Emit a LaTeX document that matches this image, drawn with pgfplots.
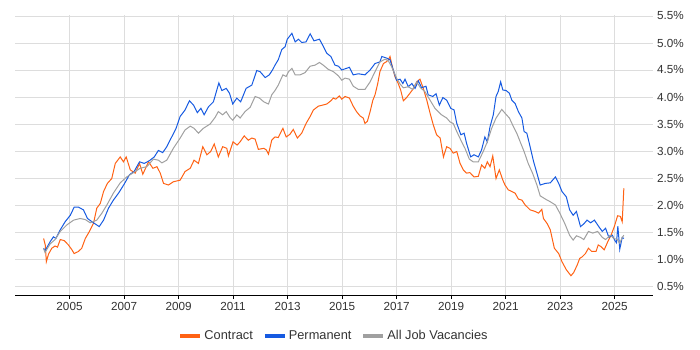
\documentclass[border=0pt]{standalone}
\usepackage{pgfplots}
\pgfplotsset{compat=1.18}
\usepackage{fontspec}
\setmainfont{Liberation Sans}
\definecolor{cContract}{RGB}{255,98,20}
\definecolor{cPerm}{RGB}{22,90,225}
\definecolor{cAll}{RGB}{160,160,160}
\definecolor{cGrid}{RGB}{221,221,221}
\definecolor{cText}{RGB}{51,51,51}
\begin{document}
\begin{tikzpicture}[x=1pt,y=1pt]
\path[use as bounding box] (0,0) rectangle (700,350);
\begin{axis}[
  at={(15pt,55pt)}, anchor=south west,
  scale only axis, width=638pt, height=280pt,
  xmin=2003.0, xmax=2026.41, ymin=0.3333, ymax=5.5185,
  axis x line*=bottom, axis y line*=right,
  x axis line style={black, line width=0.8pt, -},
  y axis line style={draw=none},
  yticklabel pos=right,
  grid=major, major grid style={cGrid, line width=0.6pt},
  xtick={2005,2007,...,2025},
  xticklabels={2005,2007,2009,2011,2013,2015,2017,2019,2021,2023,2025},
  ytick={0.5,1.0,...,5.5},
  yticklabels={0.5\%,1.0\%,1.5\%,2.0\%,2.5\%,3.0\%,3.5\%,4.0\%,4.5\%,5.0\%,5.5\%},
  tick align=outside, major tick length=4pt,
  xtick style={black, line width=0.6pt},
  ytick style={draw=none},
  tick label style={font=\fontsize{11.7}{13}\selectfont, text=cText},
  yticklabel style={anchor=west, inner sep=0pt, xshift=0pt},
  legend style={at={(0.5,-0.146)}, anchor=center, draw=none, fill=none,
    legend columns=3, font=\fontsize{12.8}{14}\selectfont, text=cText,
    /tikz/every even column/.append style={column sep=8pt}},
  legend image code/.code={\draw[#1, line width=4pt] (0pt,0pt) -- (20pt,0pt);},
  clip=false,
]
\addplot[cContract, line width=1pt] table {
2004.05 1.38
2004.11 1.26
2004.15 0.95
2004.23 1.09
2004.35 1.20
2004.47 1.24
2004.56 1.22
2004.66 1.36
2004.81 1.34
2004.96 1.26
2005.09 1.17
2005.17 1.10
2005.33 1.14
2005.45 1.20
2005.58 1.38
2005.73 1.51
2005.88 1.66
2006.00 1.94
2006.13 2.03
2006.25 2.25
2006.39 2.40
2006.55 2.49
2006.68 2.77
2006.86 2.89
2006.98 2.80
2007.08 2.89
2007.23 2.65
2007.41 2.59
2007.57 2.77
2007.69 2.57
2007.90 2.80
2008.06 2.68
2008.21 2.71
2008.33 2.59
2008.45 2.40
2008.63 2.37
2008.81 2.43
2009.06 2.46
2009.24 2.62
2009.43 2.68
2009.57 2.83
2009.73 2.77
2009.89 3.08
2010.04 2.93
2010.18 2.99
2010.31 3.13
2010.46 2.89
2010.62 3.08
2010.77 3.05
2010.83 2.91
2011.00 3.17
2011.15 3.11
2011.26 3.17
2011.41 3.28
2011.56 3.20
2011.69 3.24
2011.81 3.22
2011.93 3.03
2012.13 3.05
2012.22 3.02
2012.30 2.94
2012.42 3.20
2012.54 3.26
2012.66 3.25
2012.83 3.42
2012.95 3.26
2013.09 3.31
2013.21 3.40
2013.36 3.24
2013.52 3.33
2013.68 3.51
2013.83 3.64
2013.95 3.76
2014.13 3.83
2014.29 3.85
2014.44 3.87
2014.59 3.93
2014.68 3.98
2014.77 3.96
2014.90 4.02
2014.99 3.96
2015.11 4.01
2015.27 3.98
2015.41 3.83
2015.53 3.73
2015.66 3.65
2015.78 3.61
2015.84 3.51
2015.93 3.55
2016.03 3.73
2016.13 3.94
2016.21 4.04
2016.31 4.25
2016.39 4.47
2016.52 4.62
2016.62 4.65
2016.70 4.69
2016.76 4.75
2016.86 4.53
2016.94 4.38
2017.06 4.25
2017.15 4.13
2017.25 3.93
2017.37 3.99
2017.49 4.07
2017.64 4.17
2017.74 4.28
2017.86 4.33
2017.98 4.16
2018.11 3.94
2018.23 3.70
2018.35 3.48
2018.47 3.30
2018.60 3.24
2018.72 2.89
2018.84 3.08
2018.96 3.05
2019.08 2.96
2019.21 2.99
2019.33 2.77
2019.45 2.65
2019.57 2.59
2019.69 2.60
2019.84 2.52
2020.00 2.53
2020.12 2.74
2020.24 2.68
2020.33 2.80
2020.43 2.71
2020.53 2.91
2020.65 2.49
2020.77 2.65
2020.90 2.46
2020.98 2.37
2021.10 2.28
2021.23 2.25
2021.35 2.22
2021.47 2.11
2021.60 2.09
2021.72 2.00
2021.90 1.91
2022.09 1.88
2022.21 1.85
2022.33 1.92
2022.39 1.75
2022.52 1.66
2022.64 1.54
2022.79 1.20
2022.95 1.10
2023.07 0.95
2023.23 0.80
2023.40 0.69
2023.50 0.75
2023.63 0.89
2023.72 1.01
2023.81 1.04
2023.93 1.10
2024.04 1.20
2024.16 1.14
2024.32 1.14
2024.40 1.26
2024.50 1.23
2024.62 1.17
2024.75 1.32
2024.87 1.44
2024.99 1.60
2025.11 1.80
2025.21 1.79
2025.28 1.69
2025.34 2.31
};
\addlegendentry{Contract}
\addplot[cPerm, line width=1pt] table {
2004.05 1.20
2004.10 1.15
2004.29 1.32
2004.41 1.41
2004.50 1.38
2004.66 1.54
2004.84 1.69
2005.03 1.81
2005.17 1.96
2005.33 1.96
2005.51 1.91
2005.66 1.75
2005.88 1.67
2006.09 1.60
2006.25 1.72
2006.43 1.94
2006.61 2.09
2006.80 2.22
2007.01 2.39
2007.20 2.56
2007.37 2.62
2007.57 2.80
2007.74 2.77
2007.93 2.82
2008.11 2.89
2008.26 3.01
2008.42 2.97
2008.57 3.08
2008.75 3.26
2008.91 3.42
2009.06 3.64
2009.24 3.76
2009.40 3.93
2009.55 3.85
2009.69 3.71
2009.82 3.79
2009.94 3.67
2010.10 3.82
2010.28 3.91
2010.48 4.26
2010.59 4.12
2010.75 4.16
2010.87 4.07
2010.99 3.87
2011.14 3.98
2011.28 3.91
2011.48 4.16
2011.69 4.22
2011.87 4.49
2011.99 4.47
2012.18 4.36
2012.33 4.41
2012.46 4.51
2012.54 4.59
2012.66 4.69
2012.79 4.88
2012.91 4.93
2012.99 5.07
2013.16 5.18
2013.28 5.02
2013.40 5.07
2013.52 5.01
2013.68 5.02
2013.83 5.17
2013.97 5.04
2014.17 5.07
2014.29 4.96
2014.44 4.81
2014.59 4.75
2014.74 4.59
2014.87 4.57
2014.99 4.50
2015.27 4.55
2015.41 4.41
2015.60 4.43
2015.84 4.41
2016.03 4.50
2016.21 4.62
2016.39 4.65
2016.46 4.75
2016.64 4.72
2016.76 4.69
2016.88 4.50
2017.00 4.31
2017.13 4.33
2017.23 4.25
2017.31 4.33
2017.43 4.19
2017.56 4.25
2017.68 4.16
2017.80 4.30
2017.92 4.17
2018.08 4.20
2018.16 4.04
2018.33 4.01
2018.45 4.06
2018.57 3.85
2018.70 3.99
2018.84 3.94
2018.99 3.79
2019.11 3.76
2019.21 3.51
2019.36 3.30
2019.48 3.33
2019.57 3.14
2019.72 2.89
2019.84 2.93
2020.00 2.89
2020.12 3.02
2020.24 3.26
2020.33 3.17
2020.43 3.45
2020.55 3.67
2020.65 4.01
2020.73 4.10
2020.82 4.28
2020.90 4.13
2021.02 4.12
2021.14 4.07
2021.23 3.94
2021.35 3.88
2021.47 3.73
2021.60 3.61
2021.68 3.36
2021.78 3.33
2021.90 3.08
2022.03 2.80
2022.15 2.59
2022.27 2.37
2022.46 2.40
2022.64 2.41
2022.83 2.52
2022.95 2.40
2023.07 2.25
2023.23 2.15
2023.35 1.91
2023.48 1.81
2023.60 1.88
2023.75 1.60
2023.87 1.65
2023.99 1.72
2024.12 1.67
2024.26 1.72
2024.42 1.60
2024.55 1.51
2024.67 1.57
2024.79 1.40
2024.92 1.44
2025.00 1.35
2025.07 1.30
2025.12 1.61
2025.19 1.18
2025.28 1.40
2025.34 1.38
};
\addlegendentry{Permanent}
\addplot[cAll, line width=1pt] table {
2004.05 1.20
2004.10 1.12
2004.29 1.28
2004.47 1.36
2004.66 1.51
2004.90 1.63
2005.15 1.72
2005.39 1.75
2005.58 1.73
2005.76 1.67
2006.00 1.72
2006.19 1.85
2006.37 2.00
2006.61 2.22
2006.86 2.41
2007.10 2.52
2007.35 2.60
2007.59 2.68
2007.84 2.71
2008.08 2.85
2008.26 2.83
2008.39 2.78
2008.57 2.83
2008.81 3.05
2009.06 3.24
2009.24 3.39
2009.43 3.46
2009.57 3.42
2009.73 3.33
2009.91 3.42
2010.16 3.50
2010.34 3.62
2010.46 3.73
2010.62 3.67
2010.75 3.73
2010.89 3.62
2010.99 3.57
2011.14 3.67
2011.26 3.61
2011.44 3.73
2011.63 3.81
2011.81 4.01
2011.97 3.98
2012.13 3.91
2012.30 3.87
2012.42 4.04
2012.54 4.12
2012.66 4.22
2012.83 4.41
2012.95 4.38
2013.04 4.47
2013.16 4.53
2013.28 4.41
2013.46 4.41
2013.64 4.45
2013.83 4.57
2014.01 4.59
2014.17 4.64
2014.31 4.59
2014.50 4.51
2014.68 4.47
2014.87 4.39
2014.99 4.31
2015.11 4.35
2015.27 4.33
2015.41 4.20
2015.60 4.14
2015.84 4.14
2016.03 4.28
2016.21 4.47
2016.39 4.65
2016.58 4.70
2016.70 4.67
2016.82 4.56
2017.00 4.35
2017.13 4.24
2017.25 4.17
2017.43 4.19
2017.59 4.14
2017.74 4.28
2017.88 4.17
2018.04 4.10
2018.23 3.94
2018.41 3.79
2018.53 3.73
2018.65 3.67
2018.84 3.61
2018.96 3.54
2019.08 3.51
2019.21 3.36
2019.36 3.20
2019.51 3.05
2019.67 2.85
2019.81 2.80
2020.00 2.80
2020.18 2.99
2020.33 3.17
2020.49 3.42
2020.65 3.61
2020.77 3.70
2020.86 3.77
2020.98 3.70
2021.14 3.61
2021.29 3.45
2021.41 3.33
2021.56 3.14
2021.68 2.99
2021.83 2.77
2021.99 2.59
2022.15 2.37
2022.27 2.17
2022.46 2.11
2022.64 2.06
2022.83 2.00
2022.99 1.85
2023.17 1.66
2023.35 1.44
2023.48 1.35
2023.60 1.43
2023.75 1.40
2023.87 1.36
2024.04 1.51
2024.20 1.48
2024.38 1.51
2024.55 1.40
2024.67 1.36
2024.84 1.44
2024.98 1.38
2025.10 1.36
2025.19 1.29
2025.28 1.40
2025.34 1.44
};
\addlegendentry{All Job Vacancies}
\end{axis}
\end{tikzpicture}
\end{document}
